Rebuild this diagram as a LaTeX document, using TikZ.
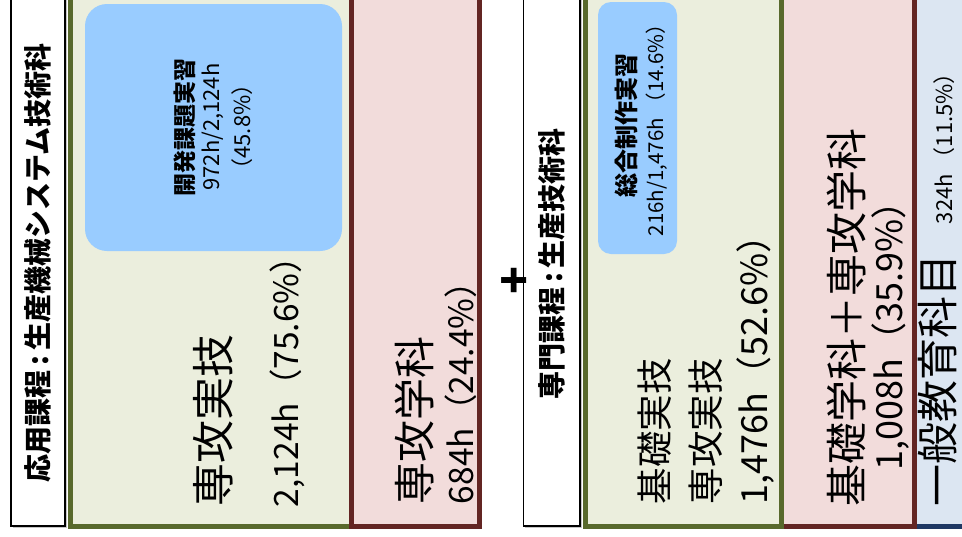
\documentclass[tikz,border=0pt]{standalone}
\usepackage{fontspec}
\setmainfont{Noto Sans CJK JP}
\definecolor{olivebd}{HTML}{58692C}
\definecolor{olivefill}{HTML}{EBEEDD}
\definecolor{redbd}{HTML}{632523}
\definecolor{redfill}{HTML}{F2DCDB}
\definecolor{skyfill}{HTML}{99CCFF}
\definecolor{paleblue}{HTML}{DCE6F2}
\definecolor{navybd}{HTML}{1F3864}
\newcommand{\fs}[1]{\fontsize{#1}{#1}\selectfont}
\newcommand{\tcolon}{\hspace{0.18em}:\hspace{0.18em}}
\begin{document}
\begin{tikzpicture}[x=1pt,y=-1pt,
  titlebox/.style={draw=black,line width=1.6pt,fill=white},
  greenbox/.style={draw=olivebd,line width=5pt,fill=olivefill},
  redbox/.style={draw=redbd,line width=5pt,fill=redfill},
  bluebox/.style={draw=navybd,line width=5pt,fill=paleblue},
  skybox/.style={fill=skyfill},
  vtxt/.style={rotate=90,anchor=west,inner sep=0pt,outer sep=0pt},
  ctxt/.style={rotate=90,anchor=center,inner sep=0pt,outer sep=0pt,align=center}]
\useasboundingbox (0,0) rectangle (962,536);
% boxes
\fill[gray!45] (12.5,-10) rectangle (66.5,527.5);
\draw[titlebox] (11,-10) rectangle (65,526);
\draw[greenbox] (70.5,-10) rectangle (351,526);
\draw[redbox] (351,-10) rectangle (479,526);
\fill[skybox, rounded corners=22pt] (85,4) rectangle (342,251);
\fill[gray!45] (525,-10) rectangle (581.5,527.5);
\draw[titlebox] (523.5,-10) rectangle (580,526);
\draw[bluebox] (914.5,-10) rectangle (980,526);
\draw[redbox] (781,-10) rectangle (914.5,526);
\draw[greenbox] (585.5,-10) rectangle (781,526);
\fill[skybox, rounded corners=13pt] (598,2) rectangle (677,254);
% titles
\node[ctxt] (t1) at (38,263) {\fs{28}\bfseries 応用課程\tcolon 生産機械システム技術科};
\node[ctxt] (t2) at (552,264) {\fs{28}\bfseries 専門課程\tcolon 生産技術科};
\node[ctxt] (plus) at (517,280) {\fs{46}\bfseries +};
% green 1
\node[ctxt] (b1a) at (185,127) {\fs{23}\bfseries 開発課題実習};
\node[ctxt] (b1b) at (213,127) {\fs{22}972h/2,124h};
\node[ctxt] (b1c) at (242,127) {\fs{22}（45.8\%）};
\node[vtxt] (g1a) at (213,506) {\fs{43}専攻実技};
\node[vtxt] (g1b) at (287,507) {\fs{33.5}2,124h（75.6\%）};
% red 1
\node[vtxt] (r1a) at (414,504) {\fs{42}専攻学科};
\node[vtxt] (r1b) at (461,504) {\fs{33.5}684h（24.4\%）};
% green 2
\node[ctxt] (b2a) at (626,125) {\fs{24}\bfseries 総合制作実習};
\node[ctxt] (b2b) at (657,125) {\fs{20.5}216h/1,476h （14.6\%）};
\node[vtxt] (g2a) at (655,504) {\fs{36.5}基礎実技};
\node[vtxt] (g2b) at (706,504) {\fs{36.5}専攻実技};
\node[vtxt] (g2c) at (756,504) {\fs{36}1,476h（52.6\%）};
% red 2
\node[vtxt] (r2a) at (846,506) {\fs{42}基礎学科＋専攻学科};
\node[vtxt] (r2b) at (891,470) {\fs{36}1,008h（35.9\%）};
% blue 3
\node[vtxt] (u1) at (938,506) {\fs{42}一般教育科目};
\node[vtxt] (u2) at (944,224) {\fs{22}324h （11.5\%）};
\end{tikzpicture}
\end{document}
